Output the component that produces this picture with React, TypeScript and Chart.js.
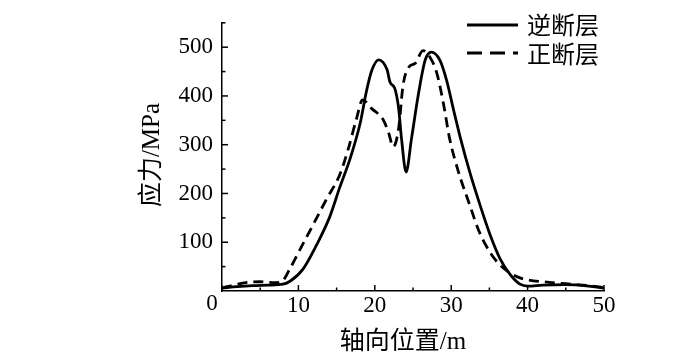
import React, { useEffect, useRef } from "react";
import { Chart, registerables } from "chart.js";

Chart.register(...registerables);

// 逆断层 (solid)
const reverseX = [0, 2, 4, 6, 8, 8.9, 10.6, 12.4, 14.1, 15.4, 16.8, 18.1, 18.9, 19.6, 20.5, 21.6, 22.0, 22.6, 23.1, 23.5, 24.1, 24.8, 25.7, 26.6, 27.4, 28.5, 29.4, 30.3, 31.2, 32.5, 33.8, 35.1, 36.4, 37.7, 39.0, 40.0, 42, 45, 48, 50];
const reverseY = [6, 9, 11, 12, 14, 20, 45, 95, 152, 212, 273, 345, 409, 452, 474, 454, 428, 416, 377, 312, 244, 312, 403, 474, 490, 474, 432, 372, 314, 240, 175, 115, 66, 34, 14, 10, 12, 13, 10, 6];

// 正断层 (dashed)
const normalX = [0, 2, 3.5, 5, 7, 7.8, 8.9, 10.2, 12.0, 13.7, 15.4, 16.5, 17.6, 18.4, 19.6, 21.1, 21.8, 22.4, 23.1, 23.7, 24.4, 25.3, 26.3, 27.2, 28.1, 29.0, 29.8, 30.9, 32.5, 33.6, 35.1, 36.4, 37.7, 39.0, 40.0, 42, 45, 48, 50];
const normalY = [6, 14, 18, 19, 17, 19, 46, 85, 138, 189, 238, 290, 353, 392, 374, 351, 325, 296, 331, 422, 458, 467, 493, 480, 448, 383, 312, 247, 173, 124, 79, 53, 37, 27, 23, 19, 15, 11, 7];

const seriesNames = ["逆断层", "正断层"];
const xTickLabels = [10, 20, 30, 40, 50];
const yTickLabels = [100, 200, 300, 400, 500];
const xMinorTicks = [5, 15, 25, 35, 45];
const yMinorTicks = [50, 150, 250, 350, 450, 550];
const xTitle = "轴向位置/m";
const yTitle = "应力/MPa";

const FONT = "'Liberation Serif', 'Noto Sans CJK SC', serif";

const decorPlugin = {
  id: "decor",
  afterDraw(chart: any) {
    const ctx = chart.ctx as CanvasRenderingContext2D;
    const xs = chart.scales.x;
    const ys = chart.scales.y;
    const area = chart.chartArea;
    ctx.save();
    ctx.strokeStyle = "#000";
    ctx.lineWidth = 1.5;
    ctx.setLineDash([]);
    const drawX = (v: number, len: number) => {
      const px = xs.getPixelForValue(v);
      ctx.beginPath();
      ctx.moveTo(px, area.bottom);
      ctx.lineTo(px, area.bottom - len);
      ctx.stroke();
    };
    [0, ...xTickLabels].forEach((v) => drawX(v, 6));
    xMinorTicks.forEach((v) => drawX(v, 3.5));
    const drawY = (v: number, len: number) => {
      const py = ys.getPixelForValue(v);
      ctx.beginPath();
      ctx.moveTo(area.left, py);
      ctx.lineTo(area.left + len, py);
      ctx.stroke();
    };
    yTickLabels.forEach((v) => drawY(v, 6));
    yMinorTicks.forEach((v) => drawY(v, 3.5));

    // origin label
    ctx.fillStyle = "#000";
    ctx.font = `23px ${FONT}`;
    ctx.textAlign = "center";
    ctx.textBaseline = "middle";
    ctx.fillText("0", area.left - 10, area.bottom + 13);

    // axis titles
    ctx.font = `25px ${FONT}`;
    ctx.fillText(xTitle, 403, 342);
    ctx.save();
    ctx.translate(152, 155);
    ctx.rotate(-Math.PI / 2);
    ctx.fillText(yTitle, 0, 0);
    ctx.restore();

    // legend
    ctx.textAlign = "left";
    ctx.font = `24px ${FONT}`;
    ctx.lineWidth = 3;
    ctx.beginPath();
    ctx.moveTo(467, 25);
    ctx.lineTo(518, 25);
    ctx.stroke();
    ctx.fillText(seriesNames[0], 527, 28);
    ctx.setLineDash([15, 8]);
    ctx.beginPath();
    ctx.moveTo(467, 53);
    ctx.lineTo(518, 53);
    ctx.stroke();
    ctx.setLineDash([]);
    ctx.fillText(seriesNames[1], 527, 57);
    ctx.restore();
  },
};

export default function App() {
  const ref = useRef<HTMLCanvasElement>(null);
  useEffect(() => {
    if (!ref.current) return;
    const chart = new Chart(ref.current, {
      type: "line",
      data: {
        datasets: [
          {
            label: seriesNames[0],
            data: reverseX.map((x, i) => ({ x, y: reverseY[i] })),
            borderColor: "#000",
            borderWidth: 2.8,
            pointRadius: 0,
            fill: false,
            cubicInterpolationMode: "monotone",
          },
          {
            label: seriesNames[1],
            data: normalX.map((x, i) => ({ x, y: normalY[i] })),
            borderColor: "#000",
            borderWidth: 2.8,
            borderDash: [10, 6],
            pointRadius: 0,
            fill: false,
            cubicInterpolationMode: "monotone",
          },
        ],
      },
      options: {
        responsive: false,
        animation: false,
        devicePixelRatio: 1,
        layout: { padding: { left: 162, right: 96, top: 7, bottom: 26 } },
        plugins: { legend: { display: false }, tooltip: { enabled: false } },
        scales: {
          x: {
            type: "linear",
            min: 0,
            max: 50,
            afterBuildTicks: (s: any) => {
              s.ticks = xTickLabels.map((v) => ({ value: v }));
            },
            afterFit: (s: any) => {
              s.height = 40;
            },
            grid: { display: true, drawOnChartArea: false, drawTicks: false },
            border: { display: true, color: "#000", width: 1.5 },
            ticks: {
              color: "#000",
              font: { family: FONT, size: 23 },
              padding: 1,
              maxRotation: 0,
              autoSkip: false,
            },
          },
          y: {
            type: "linear",
            min: 0,
            max: 550,
            afterBuildTicks: (s: any) => {
              s.ticks = yTickLabels.map((v) => ({ value: v }));
            },
            afterFit: (s: any) => {
              s.width = 60;
            },
            grid: { display: true, drawOnChartArea: false, drawTicks: false },
            border: { display: true, color: "#000", width: 1.5 },
            ticks: {
              color: "#000",
              font: { family: FONT, size: 23 },
              padding: 9,
              autoSkip: false,
            },
          },
        },
      },
      plugins: [decorPlugin],
    });
    return () => chart.destroy();
  }, []);
  return (
    <div style={{ position: "absolute", left: 0, top: 0, width: 700, height: 357, background: "#fff" }}>
      <canvas ref={ref} width={700} height={357} />
    </div>
  );
}
